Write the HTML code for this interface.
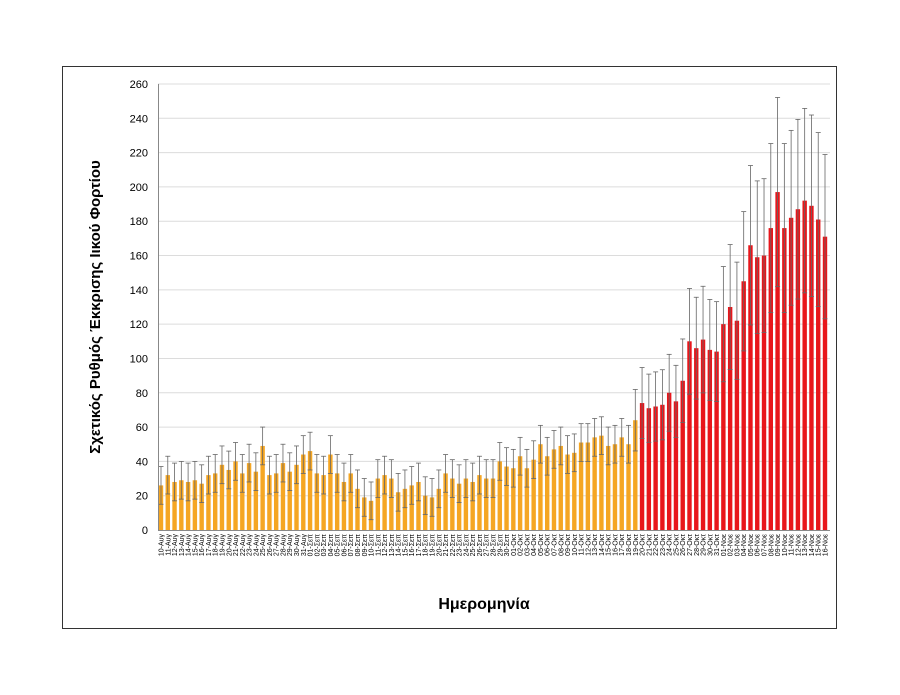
<!DOCTYPE html>
<html><head><meta charset="utf-8"><style>
html,body{margin:0;padding:0;background:#fff;}
svg{display:block;font-family:"Liberation Sans",sans-serif;}
</style></head><body>
<svg id="s" width="900" height="695" xmlns="http://www.w3.org/2000/svg"></svg>
<script>
var s=document.getElementById('s'),h='';
h+='<rect x="62.5" y="66.5" width="774" height="562" fill="none" stroke="#333" stroke-width="1"/>';
var y0=530,k=446/260,x0=158,x1=830;
for(var v=0;v<=260;v+=20){var y=y0-v*k;
 if(v>0)h+='<line x1="'+x0+'" x2="'+x1+'" y1="'+y+'" y2="'+y+'" stroke="#dcdcdc" stroke-width="1"/>';
 h+='<text x="148" y="'+(y+4)+'" font-size="11" text-anchor="end" fill="#000">'+v+'</text>';}
var vals=[26,32,28,29,28,29,27,32,33,38,35,40,33,39,34,49,32,33,39,34,38,44,
46,33,32,44,33,28,33,24,19,17,30,32,30,22,24,26,28,20,19,24,33,30,27,30,28,32,30,30,40,37,
36,43,36,41,50,43,47,49,44,45,51,51,54,55,49,50,54,50,64,
74,71,72,73,80,75,87,110,106,111,105,104,
120,130,122,145,166,159,160,176,197,176,182,187,192,189,181,171];
var labels=[];
for(var d=10;d<=31;d++)labels.push((d<10?'0':'')+d+'-Αυγ');
for(var d=1;d<=30;d++)labels.push((d<10?'0':'')+d+'-Σεπ');
for(var d=1;d<=31;d++)labels.push((d<10?'0':'')+d+'-Οκτ');
for(var d=1;d<=16;d++)labels.push((d<10?'0':'')+d+'-Νοε');
var step=(825-161)/98;
for(var i=0;i<vals.length;i++){var v=vals[i],cx=161+i*step,c=i<71?'#F5A623':'#E8161B';
 var e=v<60?11:v*0.28;var yt=y0-v*k;
 h+='<rect x="'+(cx-2.2)+'" y="'+yt+'" width="4.4" height="'+(v*k)+'" fill="'+c+'"/>';
 var ya=y0-(v+e)*k,yb=y0-(v-e)*k;
 h+='<line x1="'+cx+'" x2="'+cx+'" y1="'+ya+'" y2="'+yb+'" stroke="#666" stroke-width="0.8"/>';
 h+='<line x1="'+(cx-2.5)+'" x2="'+(cx+2.5)+'" y1="'+ya+'" y2="'+ya+'" stroke="#666" stroke-width="0.8"/>';
 h+='<line x1="'+(cx-2.5)+'" x2="'+(cx+2.5)+'" y1="'+yb+'" y2="'+yb+'" stroke="#666" stroke-width="0.8"/>';
 h+='<text transform="translate('+(cx+2.5)+',534) rotate(-90)" font-size="7" text-anchor="end" fill="#000">'+labels[i]+'</text>';}
h+='<line x1="158.5" x2="158.5" y1="84" y2="530" stroke="#888" stroke-width="1"/>';
h+='<line x1="158" x2="830" y1="530.5" y2="530.5" stroke="#888" stroke-width="1"/>';
h+='<text transform="translate(100,307) rotate(-90)" font-size="15" font-weight="bold" text-anchor="middle">Σχετικός Ρυθμός Έκκρισης Ιικού Φορτίου</text>';
h+='<text x="484" y="609" font-size="16" font-weight="bold" text-anchor="middle">Ημερομηνία</text>';
s.innerHTML=h;
</script>
</body></html>
